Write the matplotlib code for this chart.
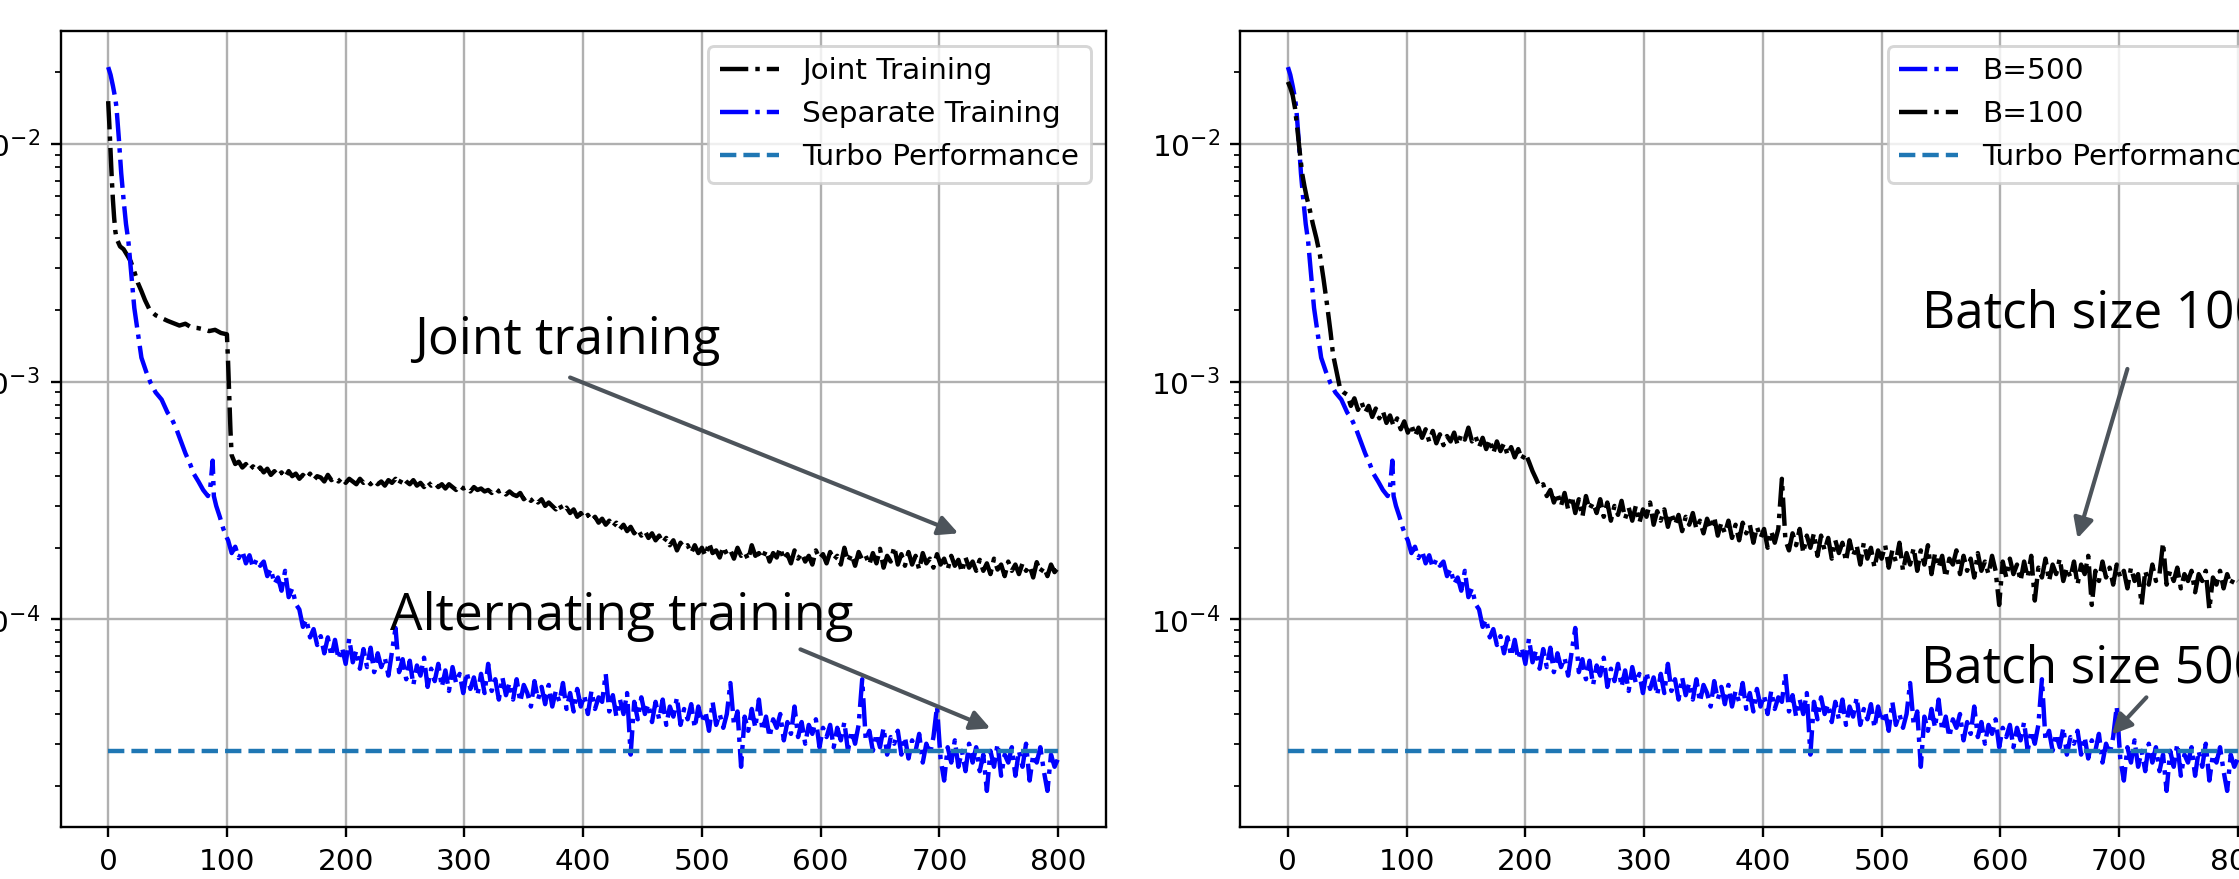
import numpy as np
import matplotlib
matplotlib.use("Agg")
from matplotlib import pyplot as plt

# ---- data (loss vs. epoch, log scale) ----

# Joint training (left panel, black), values x1e-4
joint_early_epochs = [0, 1, 2, 3, 4, 5, 6, 7, 8, 10, 13, 16, 19, 22, 25, 28, 31, 35,
                      40, 45, 50, 55, 60, 65, 70, 75, 80, 85, 90, 95, 100, 101, 102, 103]
joint_early = [151, 120, 92, 72, 58, 49, 43, 40, 39, 37, 36, 34, 32, 29, 26, 24, 22, 20,
               19, 18.5, 18, 17.6, 17.2, 17.5, 16.9, 16.8, 16.6, 16.3, 16.5, 16.0, 15.8, 12, 8.5, 6.2]
joint_late_epochs = list(range(104, 801, 3))
joint_late = [4.9, 4.5, 4.6, 4.35, 4.5, 4.25, 4.4, 4.2, 4.35, 4.15,
              4.3, 4.05, 4.2, 4.0, 4.15, 3.95, 4.2, 4.0, 4.1, 3.9,
              4.05, 3.9, 4.1, 3.85, 4.0, 3.95, 3.8, 4.05, 3.85, 3.95,
              3.8, 3.95, 3.75, 3.9, 3.8, 3.7, 3.9, 3.75, 3.85, 3.7,
              3.85, 3.7, 3.8, 3.65, 3.85, 3.75, 3.9, 3.7, 3.95, 3.8,
              3.7, 3.85, 3.65, 3.75, 3.6, 3.8, 3.65, 3.75, 3.6, 3.7,
              3.55, 3.7, 3.6, 3.5, 3.65, 3.55, 3.6, 3.45, 3.6, 3.5,
              3.55, 3.45, 3.5, 3.4, 3.55, 3.45, 3.5, 3.35, 3.45, 3.35,
              3.3, 3.4, 3.2, 3.3, 3.15, 3.25, 3.1, 3.2, 3.0, 3.1,
              3.0, 2.9, 3.05, 2.85, 2.95, 2.8, 2.9, 2.7, 2.8, 2.65,
              2.75, 2.6, 2.7, 2.55, 2.65, 2.5, 2.6, 2.45, 2.55, 2.4,
              2.5, 2.35, 2.45, 2.3, 2.4, 2.25, 2.35, 2.2, 2.3, 2.15,
              2.25, 2.1, 2.2, 2.05, 2.15, 1.95, 2.1, 2.0, 2.05, 1.9,
              2.05, 1.9, 2.0, 1.85, 2.1, 1.9, 1.95, 1.82, 2.02, 1.88,
              1.95, 1.8, 2.0, 1.85, 1.92, 1.78, 2.05, 1.85, 1.9, 1.8,
              1.95, 1.75, 1.9, 1.82, 2.0, 1.78, 1.88, 1.72, 1.95, 1.8,
              1.9, 1.75, 1.85, 1.7, 1.95, 1.8, 1.88, 1.72, 1.92, 1.78,
              1.85, 1.7, 2.0, 1.75, 1.88, 1.68, 1.92, 1.78, 1.85, 1.7,
              1.9, 1.72, 1.98, 1.65, 1.85, 1.75, 2.02, 1.7, 1.88, 1.68,
              1.92, 1.7, 1.85, 1.62, 1.9, 1.72, 1.8, 1.65, 1.88, 1.7,
              1.8, 1.62, 1.85, 1.68, 1.78, 1.58, 1.82, 1.65, 1.75, 1.6,
              1.78, 1.6, 1.72, 1.55, 1.8, 1.62, 1.7, 1.52, 1.75, 1.6,
              1.7, 1.55, 1.72, 1.6, 1.68, 1.5, 1.74, 1.58, 1.66, 1.52,
              1.7, 1.58, 1.65]

# Separate training (left, blue) == B=500 (right, blue), values x1e-5
separate_early_epochs = [0, 2, 4, 6, 7, 9, 11, 13, 15, 17, 19, 22, 25, 28, 32, 36, 40, 45, 50, 53,
                         57, 61, 65, 69, 72, 76, 80, 84, 86, 88, 89, 91, 94, 97, 100]
separate_early = [2100, 1950, 1750, 1550, 1420, 1050, 750, 580, 460, 390, 300, 204, 160, 126, 110, 98, 90, 84, 74, 70.6,
                  64, 56.5, 50, 45, 41, 38, 35, 33, 36, 46.5, 33, 30, 27, 24, 22]
separate_late_epochs = list(range(101, 801, 3))
separate_late = [21.5, 19.0, 20.2, 18.1, 19.4, 17.2, 18.6, 16.5, 17.9, 16.8,
                 17.5, 15.2, 16.3, 14.1, 15.0, 13.2, 16.0, 12.4, 13.5, 11.6,
                 11.0, 9.3, 10.0, 8.4, 9.1, 7.8, 8.5, 7.2, 8.4, 7.0,
                 8.2, 6.8, 7.6, 6.5, 8.3, 6.6, 7.4, 6.2, 7.5, 6.3,
                 7.6, 6.0, 7.2, 6.3, 6.9, 5.8, 7.3, 9.2, 6.0, 6.8,
                 5.6, 6.7, 5.3, 6.4, 5.8, 6.9, 5.2, 6.2, 5.5, 6.5,
                 5.2, 6.1, 5.0, 6.3, 5.4, 5.9, 4.9, 6.0, 5.1, 5.7,
                 4.8, 5.9, 4.9, 6.5, 5.0, 5.6, 4.6, 5.7, 4.8, 5.4,
                 4.6, 5.6, 4.5, 5.3, 4.9, 4.3, 5.5, 4.6, 5.2, 4.4,
                 5.3, 4.3, 5.0, 4.5, 5.4, 4.2, 4.9, 4.1, 5.1, 4.3,
                 4.8, 4.0, 5.0, 4.2, 4.7, 4.5, 5.9, 4.1, 4.8, 3.9,
                 4.6, 4.0, 4.9, 2.7, 4.5, 3.8, 4.7, 4.0, 4.4, 3.7,
                 4.5, 3.8, 4.6, 3.6, 4.3, 3.9, 4.7, 3.6, 4.2, 3.8,
                 4.4, 3.5, 4.3, 3.7, 4.1, 3.4, 4.5, 3.6, 4.0, 3.5,
                 4.0, 5.4, 3.6, 4.1, 2.4, 3.9, 3.4, 4.2, 3.5, 4.6,
                 3.4, 3.9, 3.2, 3.8, 3.5, 4.0, 3.1, 3.7, 3.3, 4.3,
                 3.2, 3.7, 3.0, 3.6, 3.3, 3.8, 2.9, 3.5, 3.2, 3.6,
                 2.9, 3.5, 3.1, 3.7, 2.8, 3.4, 3.0, 3.6, 5.6, 3.1,
                 3.4, 2.8, 3.3, 2.9, 3.5, 2.7, 3.2, 3.0, 3.4, 2.7,
                 3.2, 2.6, 3.1, 2.8, 3.3, 2.5, 3.0, 2.7, 3.2, 4.3,
                 2.6, 2.1, 2.9, 2.5, 3.1, 2.4, 2.8, 2.3, 3.0, 2.5,
                 2.9, 2.3, 2.7, 1.9, 2.8, 2.4, 3.0, 2.2, 2.7, 2.5,
                 2.9, 2.2, 2.8, 2.4, 3.0, 2.1, 2.7, 2.5, 2.9, 2.3,
                 1.9, 2.7, 2.4, 2.6]

# B=100 (right panel, black), values x1e-4
b100_early_epochs = [0, 2, 4, 6, 8, 10, 12, 14, 16, 18, 21, 24, 27, 30, 33, 36, 38, 41, 44, 47]
b100_early = [182, 172, 160, 141, 115, 92, 75, 66, 59, 54, 46, 40, 34, 27, 21, 16, 13, 11, 9.3, 9.0]
b100_late_epochs = list(range(50, 801, 3))
b100_late = [8.8, 7.9, 8.5, 7.6, 8.2, 7.4, 7.9, 7.1, 7.7, 7.0,
             7.5, 6.7, 7.2, 6.5, 7.0, 6.3, 6.8, 6.1, 6.6, 5.9,
             6.4, 5.8, 6.3, 5.6, 6.2, 5.5, 6.0, 5.4, 5.9, 5.6,
             6.1, 5.4, 6.0, 5.7, 6.4, 5.6, 5.9, 5.3, 5.8, 5.2,
             5.7, 5.0, 5.6, 5.1, 5.5, 4.9, 5.3, 4.8, 5.2, 4.7,
             5.0, 4.6, 4.2, 3.9, 3.6, 3.7, 3.3, 3.5, 3.1, 3.4,
             3.0, 3.4, 2.9, 3.3, 2.8, 3.2, 2.7, 3.3, 2.9, 3.1,
             2.8, 3.2, 2.7, 3.1, 2.6, 3.0, 2.75, 3.15, 2.65, 2.95,
             2.6, 3.0, 2.55, 2.9, 2.7, 3.1, 2.5, 2.85, 2.6, 2.9,
             2.45, 2.8, 2.5, 2.75, 2.35, 2.7, 2.5, 2.8, 2.4, 2.6,
             2.3, 2.65, 2.4, 2.7, 2.25, 2.55, 2.3, 2.6, 2.2, 2.5,
             2.15, 2.55, 2.3, 2.5, 2.1, 2.45, 2.2, 2.4, 2.0, 2.35,
             2.1, 2.4, 3.9, 2.15, 1.95, 2.3, 2.05, 2.4, 1.9, 2.25,
             2.0, 2.3, 1.85, 2.25, 1.95, 2.2, 1.8, 2.15, 1.9, 2.1,
             1.75, 2.15, 1.85, 2.05, 1.7, 2.1, 1.8, 2.0, 1.65, 1.95,
             1.8, 2.05, 1.65, 1.95, 1.75, 2.1, 1.6, 1.9, 1.7, 2.0,
             1.6, 1.95, 1.7, 2.05, 1.55, 1.9, 1.65, 1.85, 1.5, 1.8,
             1.7, 1.95, 1.55, 1.85, 1.6, 1.8, 1.5, 1.9, 1.6, 1.75,
             1.55, 1.85, 1.6, 1.15, 1.75, 1.5, 1.8, 1.55, 1.7, 1.45,
             1.75, 1.5, 1.85, 1.2, 1.65, 1.5, 1.8, 1.45, 1.7, 1.55,
             1.8, 1.45, 1.65, 1.5, 1.75, 1.4, 1.7, 1.55, 1.85, 1.15,
             1.6, 1.45, 1.75, 1.5, 1.65, 1.4, 1.7, 1.5, 1.6, 1.35,
             1.65, 1.45, 1.55, 1.15, 1.6, 1.4, 1.7, 1.45, 1.55, 2.1,
             1.4, 1.6, 1.45, 1.65, 1.35, 1.55, 1.45, 1.6, 1.3, 1.55,
             1.45, 1.6, 1.1, 1.5, 1.4, 1.6, 1.35, 1.55, 1.4, 1.5,
             1.45]

turbo_epochs = [0, 800]
turbo_level = 2.8e-5


def main():
    joint_x = joint_early_epochs + joint_late_epochs
    joint_y = np.array(joint_early + joint_late) * 1e-4
    sep_x = separate_early_epochs + separate_late_epochs
    sep_y = np.array(separate_early + separate_late) * 1e-5
    b100_x = b100_early_epochs + b100_late_epochs
    b100_y = np.array(b100_early + b100_late) * 1e-4
    turbo_y = [turbo_level] * len(turbo_epochs)

    dpi = 212
    fig = plt.figure(figsize=(2239 / dpi, 879 / dpi), dpi=dpi)
    ax1 = fig.add_axes([0.0271, 0.0592, 0.4667, 0.9056])
    ax2 = fig.add_axes([0.5540, 0.0592, 0.4667, 0.9056])

    # left: joint vs separate training
    ax1.plot(joint_x, joint_y, "k-.", label="Joint Training")
    ax1.plot(sep_x, sep_y, "b-.", label="Separate Training")
    ax1.plot(turbo_epochs, turbo_y, "--", color="tab:blue", label="Turbo Performance")

    # right: batch size
    ax2.plot(sep_x, sep_y, "b-.", label="B=500")
    ax2.plot(b100_x, b100_y, "k-.", label="B=100")
    ax2.plot(turbo_epochs, turbo_y, "--", color="tab:blue", label="Turbo Performance")

    for ax in (ax1, ax2):
        ax.set_yscale("log")
        ax.set_xlim(-40, 840)
        ax.set_ylim(1.34e-5, 0.0298)
        ax.set_xticks(range(0, 801, 100))
        ax.grid(True)
        ax.legend(loc="upper right")

    note_font = dict(family=["Open Sans", "DejaVu Sans"], fontsize=17.5, color="black")
    arrow = dict(arrowstyle="-|>", color="#4d545b", lw=1.4, mutation_scale=14, shrinkA=0, shrinkB=0)

    ax1.text(258, 1.31e-3, "Joint training", **note_font)
    ax1.annotate("", xy=(716, 2.30e-4), xytext=(389, 1.04e-3), arrowprops=arrow)
    ax1.text(237, 9.0e-5, "Alternating training", **note_font)
    ax1.annotate("", xy=(743, 3.48e-5), xytext=(583, 7.48e-5), arrowprops=arrow)

    ax2.text(534, 1.69e-3, "Batch size 100", clip_on=False, **note_font)
    ax2.annotate("", xy=(665, 2.19e-4), xytext=(707, 1.13e-3), arrowprops=arrow)
    ax2.text(533, 5.43e-5, "Batch size 500", clip_on=False, **note_font)
    ax2.annotate("", xy=(694, 3.28e-5), xytext=(723, 4.70e-5), arrowprops=arrow)

    fig.savefig("out.png", dpi=dpi)


if __name__ == '__main__':
    main()
